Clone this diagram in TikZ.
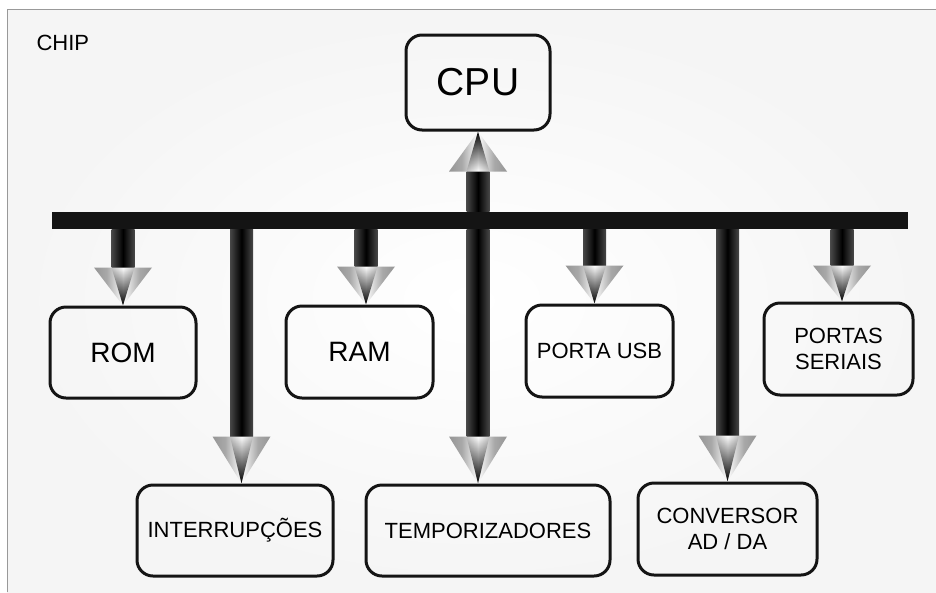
\documentclass[tikz,border=0pt]{standalone}
\usepackage{fontspec}
\setmainfont{Liberation Sans}
\usetikzlibrary{calc,fadings}
\pgfdeclarehorizontalshading{headshade}{100bp}{color(0bp)=(black!58); color(36bp)=(black!34); color(50bp)=(white); color(64bp)=(black!34); color(100bp)=(black!58)}
\tikzset{
  box/.style={draw=black!92, line width=3pt, rounded corners=16pt, inner sep=0pt, align=center, text=black},
  shaftshade/.style={left color=black!72, right color=black!72, middle color=black},
  fs22/.style={font=\fontsize{22}{26}\selectfont},
  fs28/.style={font=\fontsize{28}{32}\selectfont},
  fs39/.style={font=\fontsize{39}{44}\selectfont},
}
% #1 bus anchor, #2 tip, #3 vector tip->head base, #4 fading
\newcommand{\fatarrow}[4]{%
  \coordinate (fa-t) at (#2);
  \coordinate (fa-b) at ($(fa-t)+#3$);
  \coordinate (fa-s) at (#1 -| fa-t);
  \shade[shaftshade] ($(fa-s)+(-11.5,0)$) rectangle ($(fa-b)+(11.5,0)$);
  \shade[shading=headshade] ($(fa-b)+(-29,0)$) -- ($(fa-b)+(29,0)$) -- (fa-t) -- cycle;
  \fill[black, path fading=#4] ($(fa-b)+(-11.5,0)$) -- ($(fa-b)+(11.5,0)$) -- (fa-t) -- cycle;
}
\begin{document}
\begin{tikzpicture}[x=1pt,y=-1pt]
\useasboundingbox (0,0) rectangle (936,592);
\fill[white] (0,0) rectangle (936,592);
\shade[inner color=white, outer color=black!4] (7,9) rectangle (936,592);
\draw[black!40, line width=1pt] (7,592) -- (7,9) -- (936,9);

\node[anchor=base west, fs22, text=black] (chip) at (33,50) {CHIP};

\node[fill=black!92, minimum width=856pt, minimum height=17pt, inner sep=0pt] (bus) at (480,220.5) {};

\node[box, fs39, minimum width=144pt, minimum height=95pt] (cpu) at (478,82.5) {CPU};
\node[box, fs28, minimum width=146pt, minimum height=91pt] (rom) at (123,352.5) {ROM};
\node[box, fs28, minimum width=147pt, minimum height=92pt] (ram) at (359.5,352) {RAM};
\node[box, fs22, minimum width=147pt, minimum height=92pt] (usb) at (599.5,351) {PORTA USB};
\node[box, fs22, minimum width=149pt, minimum height=92pt] (ser) at (838.5,349) {PORTAS\\SERIAIS};
\node[box, fs22, minimum width=196pt, minimum height=91pt] (int) at (235,530.5) {INTERRUPÇÕES};
\node[box, fs22, minimum width=244pt, minimum height=91pt] (tmp) at (488,530.5) {TEMPORIZADORES};
\node[box, fs22, minimum width=179pt, minimum height=92pt] (cnv) at (727.5,529) {CONVERSOR\\AD / DA};

\fatarrow{bus.north}{cpu.south}{(0,40)}{south}
\fatarrow{bus.south}{rom.north}{(0,-38)}{north}
\fatarrow{bus.south}{$(ram.north)+(6.5,0)$}{(0,-38)}{north}
\fatarrow{bus.south}{$(usb.north)+(-5,0)$}{(0,-38)}{north}
\fatarrow{bus.south}{$(ser.north)+(3.5,0)$}{(0,-36)}{north}
\fatarrow{bus.south}{$(int.north)+(6.5,0)$}{(0,-47)}{north}
\fatarrow{bus.south}{cpu.south |- tmp.north}{(0,-47)}{north}
\fatarrow{bus.south}{cnv.north}{(0,-46)}{north}
\end{tikzpicture}
\end{document}
